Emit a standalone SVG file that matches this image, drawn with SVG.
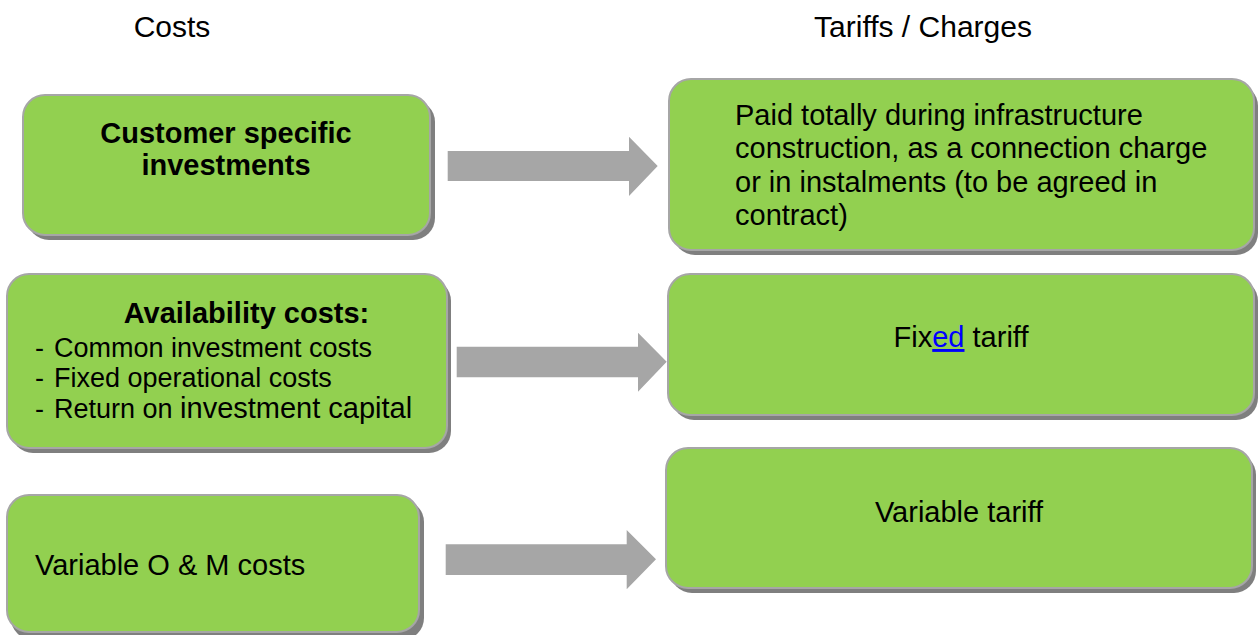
<svg xmlns="http://www.w3.org/2000/svg" width="1258" height="635" viewBox="0 0 1258 635">
<style>
text{font-family:"Liberation Sans",Arial,sans-serif;fill:#000}
.t{font-size:29px}
.b{font-size:29px;font-weight:bold}
.s{font-size:27px}
.h{font-size:30px}
.box{fill:#92d050;stroke:#a6a6a6;stroke-width:2}
.sh{fill:#7f7f7f}
.arr{fill:#a6a6a6}
.lnk{fill:#0000ff;text-decoration:underline}
</style>
<rect width="1258" height="635" fill="#ffffff"/>
<g id="titles">
<text class="h" x="172" y="37" text-anchor="middle">Costs</text>
<text class="h" x="923" y="37" text-anchor="middle">Tariffs / Charges</text>
</g>
<g id="connectors">
<polygon class="arr" points="447.7,151 629,151 629,136.7 657.7,166 629,196 629,181 447.7,181"/>
<polygon class="arr" points="456.7,346.7 638,346.7 638,332.7 666.7,361.7 638,391.7 638,377.3 456.7,377.3"/>
<polygon class="arr" points="445.7,544.3 626.7,544.3 626.7,530 656,559.3 626.7,589.3 626.7,575 445.7,575"/>
</g>
<g id="customer-investments">
<rect class="sh" x="27" y="100" width="408" height="140" rx="22"/>
<rect class="box" x="23" y="95" width="407" height="140" rx="22"/>
<text class="b" x="226" y="143" text-anchor="middle">Customer specific</text>
<text class="b" x="226" y="175" text-anchor="middle">investments</text>
</g>
<g id="paid-totally">
<rect class="sh" x="673" y="84" width="585" height="171" rx="22"/>
<rect class="box" x="669" y="79" width="585" height="171" rx="22"/>
<text class="t" x="735" y="125">Paid totally during infrastructure</text>
<text class="t" x="735" y="158.3">construction, as a connection charge</text>
<text class="t" x="735" y="191.7">or in instalments (to be agreed in</text>
<text class="t" x="735" y="225">contract)</text>
</g>
<g id="availability-costs">
<rect class="sh" x="11" y="279" width="440" height="174" rx="22"/>
<rect class="box" x="7" y="274" width="440" height="174" rx="22"/>
<text class="b" x="246.5" y="323.3" text-anchor="middle">Availability costs:</text>
<text class="s" y="356.7"><tspan x="35">-</tspan><tspan x="54">Common investment costs</tspan></text>
<text class="s" y="386.7"><tspan x="35">-</tspan><tspan x="54">Fixed operational costs</tspan></text>
<text class="s" y="418.3"><tspan x="35">-</tspan><tspan x="54">Return on </tspan><tspan style="font-size:29px">investment capital</tspan></text>
</g>
<g id="fixed-tariff">
<rect class="sh" x="672" y="279" width="586" height="141" rx="22"/>
<rect class="box" x="668" y="274" width="586" height="141" rx="22"/>
<text class="t" x="961" y="347" text-anchor="middle">Fix<tspan class="lnk">ed</tspan> tariff</text>
</g>
<g id="variable-om">
<rect class="sh" x="11" y="500" width="413" height="140" rx="22"/>
<rect class="box" x="7" y="495" width="412" height="137" rx="22"/>
<text class="t" x="35" y="575">Variable O &amp; M costs</text>
</g>
<g id="variable-tariff">
<rect class="sh" x="670" y="453" width="586" height="140" rx="22"/>
<rect class="box" x="666" y="448" width="586" height="140" rx="22"/>
<text class="t" x="959" y="521.7" text-anchor="middle">Variable tariff</text>
</g>
</svg>
